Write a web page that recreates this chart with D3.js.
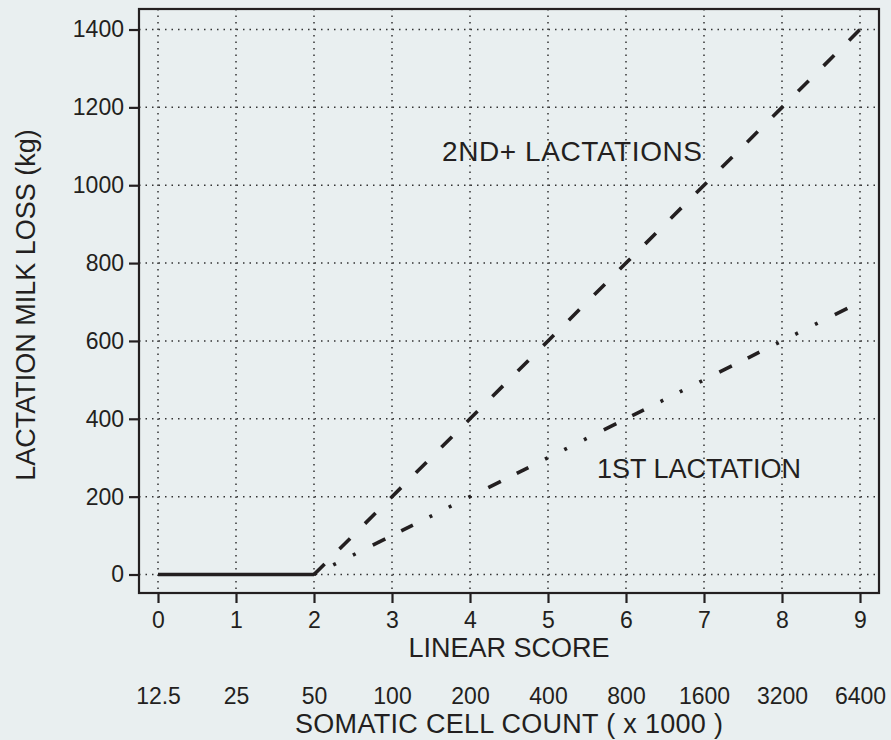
<!DOCTYPE html>
<html>
<head>
<meta charset="utf-8">
<script src="https://cdn.jsdelivr.net/npm/d3@7"></script>
<style>
  html, body { margin: 0; padding: 0; background: #e9eff0; }
  svg { display: block; font-family: "Liberation Sans", Arial, Helvetica, sans-serif; }
</style>
</head>
<body>
<svg id="chart" width="891" height="740"></svg>
<script>
// tick values / labels
const linearScores = [0, 1, 2, 3, 4, 5, 6, 7, 8, 9];
const sccLabels = ["12.5", "25", "50", "100", "200", "400", "800", "1600", "3200", "6400"];
const lossTicks = [0, 200, 400, 600, 800, 1000, 1200, 1400];

// series: milk loss (kg) by linear score
const noLoss = [{ls: 0, kg: 0}, {ls: 1, kg: 0}, {ls: 2, kg: 0}];
const secondLact = [
  {ls: 2, kg: 0}, {ls: 3, kg: 200}, {ls: 4, kg: 400}, {ls: 5, kg: 600},
  {ls: 6, kg: 800}, {ls: 7, kg: 1000}, {ls: 8, kg: 1200}, {ls: 9, kg: 1400}
];
const firstLact = [
  {ls: 2, kg: 0}, {ls: 3, kg: 100}, {ls: 4, kg: 200}, {ls: 5, kg: 300},
  {ls: 6, kg: 400}, {ls: 7, kg: 500}, {ls: 8, kg: 600}, {ls: 9, kg: 700}
];

const ink = "#231f20";
const svg = d3.select("#chart");

// plot frame 139..879 x 9..593
const plotL = 139, plotR = 879, plotT = 9, plotB = 593;
const x = d3.scaleLinear().domain([-0.2436, 9.2436]).range([plotL, plotR]);
const y = d3.scaleLinear().domain([-47.5, 1452.7]).range([plotB, plotT]);

// dotted grid
const grid = svg.append("g")
  .attr("stroke", "#333")
  .attr("stroke-width", 1.5)
  .attr("stroke-dasharray", "1.5,5");
grid.selectAll("line.v")
  .data(linearScores)
  .join("line")
  .attr("class", "v")
  .attr("x1", d => x(d)).attr("x2", d => x(d))
  .attr("y1", plotT).attr("y2", plotB);
grid.selectAll("line.h")
  .data(lossTicks)
  .join("line")
  .attr("class", "h")
  .attr("x1", plotL).attr("x2", plotR)
  .attr("y1", d => y(d)).attr("y2", d => y(d));

// lines
const line = d3.line().x(d => x(d.ls)).y(d => y(d.kg));

svg.append("path")
  .datum(noLoss)
  .attr("d", line)
  .attr("fill", "none")
  .attr("stroke", ink)
  .attr("stroke-width", 3.6);

svg.append("path")
  .datum(secondLact)
  .attr("d", line)
  .attr("fill", "none")
  .attr("stroke", ink)
  .attr("stroke-width", 3.6)
  .attr("stroke-dasharray", "15,21");

// dot dot dot dash dash
svg.append("path")
  .datum(firstLact)
  .attr("d", line)
  .attr("fill", "none")
  .attr("stroke", ink)
  .attr("stroke-width", 3.6)
  .attr("stroke-dasharray", "3,18.5,3,19,3,19.2,14,17.8,13,18.6");

// frame
svg.append("rect")
  .attr("x", plotL).attr("y", plotT)
  .attr("width", plotR - plotL).attr("height", plotB - plotT)
  .attr("fill", "none")
  .attr("stroke", ink)
  .attr("stroke-width", 2.2);

// axes
const yAxis = svg.append("g")
  .attr("transform", `translate(${plotL},0)`)
  .call(d3.axisLeft(y).tickValues(lossTicks).tickSize(10).tickPadding(5)
    .tickFormat(d3.format("d")));
const xAxis = svg.append("g")
  .attr("transform", `translate(0,${plotB})`)
  .call(d3.axisBottom(x).tickValues(linearScores).tickSize(10).tickPadding(9));
const sccAxis = svg.append("g")
  .attr("transform", `translate(0,${plotB})`)
  .call(d3.axisBottom(x).tickValues(linearScores).tickSize(0).tickPadding(95)
    .tickFormat((d, i) => sccLabels[i]));

[yAxis, xAxis, sccAxis].forEach(a => {
  a.select(".domain").remove();
  a.selectAll("line").attr("stroke", ink).attr("stroke-width", 2.2);
  a.selectAll("text")
    .attr("fill", ink)
    .style("font-size", "23px")
    .style("font-family", "'Liberation Sans', Arial, sans-serif");
});

// titles
const mid = (plotL + plotR) / 2;
svg.append("text")
  .attr("x", mid).attr("y", 657)
  .attr("text-anchor", "middle")
  .attr("fill", ink)
  .style("font-size", "27px")
  .text("LINEAR SCORE");

svg.append("text")
  .attr("x", mid).attr("y", 733)
  .attr("text-anchor", "middle")
  .attr("fill", ink)
  .attr("textLength", 428)
  .attr("lengthAdjust", "spacing")
  .style("font-size", "27px")
  .text("SOMATIC CELL COUNT ( x 1000 )");

svg.append("text")
  .attr("transform", `translate(35,${(plotT + plotB) / 2 + 4}) rotate(-90)`)
  .attr("text-anchor", "middle")
  .attr("fill", ink)
  .style("font-size", "27px")
  .text("LACTATION MILK LOSS (kg)");

// series labels
svg.append("text")
  .attr("x", 442).attr("y", 161)
  .attr("fill", ink)
  .attr("textLength", 260)
  .attr("lengthAdjust", "spacing")
  .style("font-size", "28px")
  .text("2ND+ LACTATIONS");

svg.append("text")
  .attr("x", 597).attr("y", 478)
  .attr("fill", ink)
  .style("font-size", "27px")
  .text("1ST LACTATION");
</script>
</body>
</html>
